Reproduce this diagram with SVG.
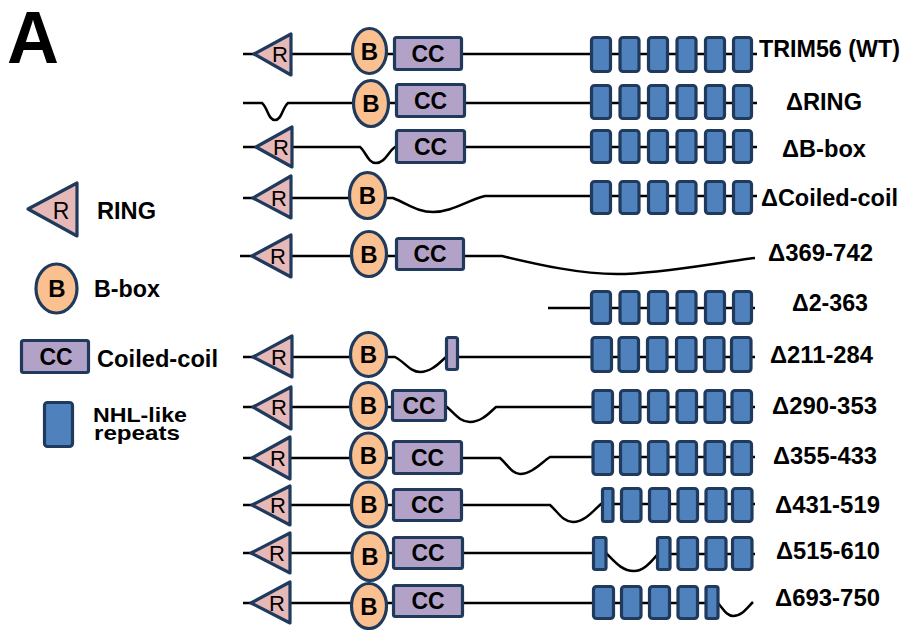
<svg xmlns="http://www.w3.org/2000/svg" width="907" height="630" viewBox="0 0 907 630">
<style>
.ring{fill:#e6b9b8;stroke:#1f3a5c;stroke-width:3.2;stroke-linejoin:round}
.bb{fill:#fac090;stroke:#1f3a5c;stroke-width:3.2}
.cc{fill:#b3a2c7;stroke:#1f3a5c;stroke-width:3.2}
.nhl{fill:#4f81bd;stroke:#1f3a5c;stroke-width:3.2}
.ln{fill:none;stroke:#000;stroke-width:2.5}
.r{font-family:"Liberation Sans",Arial,sans-serif;font-size:22px;text-anchor:middle;fill:#000}
.b{font-family:"Liberation Sans",Arial,sans-serif;font-size:24px;font-weight:bold;text-anchor:middle;fill:#000}
.c{font-family:"Liberation Sans",Arial,sans-serif;font-size:23px;font-weight:bold;text-anchor:middle;fill:#000}
.lbl{font-family:"Liberation Sans",Arial,sans-serif;font-size:23px;font-weight:bold;fill:#000}
</style>
<rect width="907" height="630" fill="#fff"/>
<text x="7" y="63" class="lbl" style="font-size:74px" textLength="52" lengthAdjust="spacingAndGlyphs">A</text>

<g id="legend">
<g id="legend-ring"><polygon class="ring" points="28,209 77,183 77,236"/><text x="61" y="219" class="r" style="font-size:23px">R</text>
<text x="97" y="219" class="lbl" textLength="59" lengthAdjust="spacingAndGlyphs">RING</text></g>
<g id="legend-bbox"><ellipse class="bb" cx="56.5" cy="288.5" rx="20.5" ry="24.5"/><text x="57" y="297" class="b">B</text>
<text x="94" y="297" class="lbl" textLength="66" lengthAdjust="spacingAndGlyphs">B-box</text></g>
<g id="legend-cc"><rect class="cc" x="21.5" y="340.5" width="67" height="32" rx="2"/><text x="56" y="365" class="c">CC</text>
<text x="97" y="367" class="lbl" textLength="121" lengthAdjust="spacingAndGlyphs">Coiled-coil</text></g>
<g id="legend-nhl"><rect class="nhl" x="44.5" y="402.5" width="28" height="44" rx="3"/>
<text x="93" y="422" class="lbl" style="font-size:21px" textLength="94" lengthAdjust="spacingAndGlyphs">NHL-like</text>
<text x="94" y="440" class="lbl" style="font-size:21px" textLength="86" lengthAdjust="spacingAndGlyphs">repeats</text></g>
</g>

<g id="connectors">
<path class="ln" d="M243,54 H757"/>
<path class="ln" d="M243,103 H262 C268,108 268,120 275,120 C282,120 282,108 288,103 H757"/>
<path class="ln" d="M243,147 H360 C366,152 368,163 376,163 C385,163 388,152 395,147 H757"/>
<path class="ln" d="M243,198 H393 C410,205 418,212 433,212 C452,212 468,200 485,196 H757"/>
<path class="ln" d="M240,256 H502 C540,265 580,274 617,274 C660,274 720,262 755,258"/>
<path class="ln" d="M548,308 H755"/>
<path class="ln" d="M243,357 H395 C405,362 410,372 420,372 C432,372 440,362 446,357 H755"/>
<path class="ln" d="M243,407 H447 C455,414 460,422 470,422 C482,422 490,412 496,407 H755"/>
<path class="ln" d="M243,458 H500 C508,465 512,474 520,474 C532,474 542,462 550,457 H755"/>
<path class="ln" d="M243,505 H550 C558,512 563,522 573,522 C585,522 594,510 601,504 H755"/>
<path class="ln" d="M243,553 H606 C615,562 622,571 634,571 C645,571 652,560 658,554 H755"/>
<path class="ln" d="M243,603 H718 C724,610 727,616 733,616 C742,616 748,607 753,602"/>
</g>

<g id="row-wt">
<polygon class="ring" points="254,54 291,34 291,75"/><text x="280" y="62" class="r">R</text>
<ellipse class="bb" cx="369.5" cy="51" rx="17" ry="22.5"/><text x="369.5" y="59.5" class="b">B</text>
<rect class="cc" x="394.5" y="37.5" width="67" height="32" rx="2"/><text x="428" y="61.5" class="c">CC</text>
<rect class="nhl" x="591.5" y="37.5" width="19" height="34" rx="3"/><rect class="nhl" x="620" y="37.5" width="19" height="34" rx="3"/><rect class="nhl" x="648.5" y="37.5" width="19" height="34" rx="3"/><rect class="nhl" x="677" y="37.5" width="19" height="34" rx="3"/><rect class="nhl" x="705.5" y="37.5" width="19" height="34" rx="3"/><rect class="nhl" x="733.5" y="37.5" width="18" height="34" rx="3"/>
<text x="759" y="57" class="lbl" textLength="141" lengthAdjust="spacingAndGlyphs">TRIM56 (WT)</text>
</g>

<g id="row-dring">
<ellipse class="bb" cx="371" cy="103.5" rx="17.5" ry="23"/><text x="371" y="112" class="b">B</text>
<rect class="cc" x="396.5" y="84.5" width="68" height="32" rx="2"/><text x="430.5" y="108.5" class="c">CC</text>
<rect class="nhl" x="591.5" y="85.5" width="19" height="33" rx="3"/><rect class="nhl" x="620" y="85.5" width="19" height="33" rx="3"/><rect class="nhl" x="648.5" y="85.5" width="19" height="33" rx="3"/><rect class="nhl" x="677" y="85.5" width="19" height="33" rx="3"/><rect class="nhl" x="705.5" y="85.5" width="19" height="33" rx="3"/><rect class="nhl" x="733.5" y="85.5" width="18" height="33" rx="3"/>
<text x="786" y="110" class="lbl" textLength="76" lengthAdjust="spacingAndGlyphs">ΔRING</text>
</g>

<g id="row-dbbox">
<polygon class="ring" points="256,147 292,127 292,167"/><text x="281" y="155" class="r">R</text>
<rect class="cc" x="396.5" y="130.5" width="68" height="32" rx="2"/><text x="430.5" y="154.5" class="c">CC</text>
<rect class="nhl" x="591.5" y="130.5" width="19" height="32" rx="3"/><rect class="nhl" x="620" y="130.5" width="19" height="32" rx="3"/><rect class="nhl" x="648.5" y="130.5" width="19" height="32" rx="3"/><rect class="nhl" x="677" y="130.5" width="19" height="32" rx="3"/><rect class="nhl" x="705.5" y="130.5" width="19" height="32" rx="3"/><rect class="nhl" x="733.5" y="130.5" width="18" height="32" rx="3"/>
<text x="782" y="157" class="lbl" textLength="84" lengthAdjust="spacingAndGlyphs">ΔB-box</text>
</g>

<g id="row-dcc">
<polygon class="ring" points="253,198 291,176 291,218"/><text x="279" y="206" class="r">R</text>
<ellipse class="bb" cx="367.5" cy="195.5" rx="18" ry="23"/><text x="367.5" y="204" class="b">B</text>
<rect class="nhl" x="591.5" y="181.5" width="19" height="32" rx="3"/><rect class="nhl" x="620" y="181.5" width="19" height="32" rx="3"/><rect class="nhl" x="648.5" y="181.5" width="19" height="32" rx="3"/><rect class="nhl" x="677" y="181.5" width="19" height="32" rx="3"/><rect class="nhl" x="705.5" y="181.5" width="19" height="32" rx="3"/><rect class="nhl" x="733.5" y="181.5" width="18" height="32" rx="3"/>
<text x="761" y="206" class="lbl" textLength="137" lengthAdjust="spacingAndGlyphs">ΔCoiled-coil</text>
</g>

<g id="row-d369">
<polygon class="ring" points="252,256 291,235 291,277"/><text x="278" y="264" class="r">R</text>
<ellipse class="bb" cx="369" cy="254" rx="17.5" ry="22.5"/><text x="369" y="262.5" class="b">B</text>
<rect class="cc" x="396.5" y="238.5" width="67" height="31" rx="2"/><text x="430" y="262" class="c">CC</text>
<text x="768" y="261" class="lbl" textLength="105" lengthAdjust="spacingAndGlyphs">Δ369-742</text>
</g>

<g id="row-d2">
<rect class="nhl" x="591.5" y="291.5" width="19" height="32" rx="3"/><rect class="nhl" x="620" y="291.5" width="19" height="32" rx="3"/><rect class="nhl" x="648.5" y="291.5" width="19" height="32" rx="3"/><rect class="nhl" x="677" y="291.5" width="19" height="32" rx="3"/><rect class="nhl" x="705.5" y="291.5" width="19" height="32" rx="3"/><rect class="nhl" x="733.5" y="291.5" width="18" height="32" rx="3"/>
<text x="792" y="311" class="lbl" textLength="76" lengthAdjust="spacingAndGlyphs">Δ2-363</text>
</g>

<g id="row-d211">
<polygon class="ring" points="253,357 292,336 292,377"/><text x="279" y="365" class="r">R</text>
<ellipse class="bb" cx="368.5" cy="354.5" rx="18" ry="22"/><text x="368.5" y="363" class="b">B</text>
<rect class="cc" x="446.5" y="337.5" width="11" height="32" rx="2"/>
<rect class="nhl" x="592" y="337.5" width="19.5" height="34" rx="3"/><rect class="nhl" x="619" y="337.5" width="19.5" height="34" rx="3"/><rect class="nhl" x="647.5" y="337.5" width="19.5" height="34" rx="3"/><rect class="nhl" x="676.5" y="337.5" width="19.5" height="34" rx="3"/><rect class="nhl" x="704.5" y="337.5" width="19.5" height="34" rx="3"/><rect class="nhl" x="731.5" y="337.5" width="19.5" height="34" rx="3"/>
<text x="770" y="363" class="lbl" textLength="103" lengthAdjust="spacingAndGlyphs">Δ211-284</text>
</g>

<g id="row-d290">
<polygon class="ring" points="253,407 291,387 291,429"/><text x="279" y="415" class="r">R</text>
<ellipse class="bb" cx="368.5" cy="405.5" rx="18" ry="23"/><text x="368.5" y="414" class="b">B</text>
<rect class="cc" x="392.5" y="390.5" width="53" height="30" rx="2"/><text x="419" y="413.5" class="c">CC</text>
<rect class="nhl" x="593" y="390.5" width="19.5" height="32" rx="3"/><rect class="nhl" x="620.5" y="390.5" width="19.5" height="32" rx="3"/><rect class="nhl" x="648.5" y="390.5" width="19.5" height="32" rx="3"/><rect class="nhl" x="677" y="390.5" width="19.5" height="32" rx="3"/><rect class="nhl" x="705" y="390.5" width="19.5" height="32" rx="3"/><rect class="nhl" x="732" y="390.5" width="19.5" height="32" rx="3"/>
<text x="772" y="414" class="lbl" textLength="105" lengthAdjust="spacingAndGlyphs">Δ290-353</text>
</g>

<g id="row-d355">
<polygon class="ring" points="252,458 290,437 290,479"/><text x="278" y="466" class="r">R</text>
<ellipse class="bb" cx="368.5" cy="455.5" rx="18" ry="22.5"/><text x="368.5" y="464" class="b">B</text>
<rect class="cc" x="393.5" y="441.5" width="68" height="32" rx="2"/><text x="427.5" y="465.5" class="c">CC</text>
<rect class="nhl" x="593" y="441.5" width="19.5" height="33" rx="3"/><rect class="nhl" x="620.5" y="441.5" width="19.5" height="33" rx="3"/><rect class="nhl" x="648.5" y="441.5" width="19.5" height="33" rx="3"/><rect class="nhl" x="677" y="441.5" width="19.5" height="33" rx="3"/><rect class="nhl" x="705" y="441.5" width="19.5" height="33" rx="3"/><rect class="nhl" x="732" y="441.5" width="19.5" height="33" rx="3"/>
<text x="773" y="464" class="lbl" textLength="104" lengthAdjust="spacingAndGlyphs">Δ355-433</text>
</g>

<g id="row-d431">
<polygon class="ring" points="252,505 290,486 290,525"/><text x="278" y="513" class="r">R</text>
<ellipse class="bb" cx="369" cy="504.5" rx="17.5" ry="22.5"/><text x="369" y="513" class="b">B</text>
<rect class="cc" x="393.5" y="489.5" width="68" height="31" rx="2"/><text x="427.5" y="513" class="c">CC</text>
<rect class="nhl" x="602.5" y="488.5" width="10.5" height="33" rx="2"/><rect class="nhl" x="621.5" y="488.5" width="19.5" height="33" rx="3"/><rect class="nhl" x="649.5" y="488.5" width="20" height="33" rx="3"/><rect class="nhl" x="678" y="488.5" width="19.5" height="33" rx="3"/><rect class="nhl" x="706" y="488.5" width="20" height="33" rx="3"/><rect class="nhl" x="732.5" y="488.5" width="19.5" height="33" rx="3"/>
<text x="775" y="513" class="lbl" textLength="105" lengthAdjust="spacingAndGlyphs">Δ431-519</text>
</g>

<g id="row-d515">
<polygon class="ring" points="251,553 290,533 290,573"/><text x="277" y="561" class="r">R</text>
<ellipse class="bb" cx="370" cy="556.5" rx="18" ry="24"/><text x="370" y="565" class="b">B</text>
<rect class="cc" x="393.5" y="537.5" width="69" height="31" rx="2"/><text x="428" y="561" class="c">CC</text>
<rect class="nhl" x="593.5" y="537.5" width="12.5" height="32" rx="2"/><rect class="nhl" x="657.5" y="537.5" width="12.5" height="32" rx="2"/><rect class="nhl" x="678" y="537.5" width="19.5" height="32" rx="3"/><rect class="nhl" x="706" y="537.5" width="20" height="32" rx="3"/><rect class="nhl" x="732.5" y="537.5" width="19.5" height="32" rx="3"/>
<text x="776" y="559" class="lbl" textLength="104" lengthAdjust="spacingAndGlyphs">Δ515-610</text>
</g>

<g id="row-d693">
<polygon class="ring" points="251,603 290,582 290,623"/><text x="277" y="611" class="r">R</text>
<ellipse class="bb" cx="369" cy="606" rx="17.5" ry="22.5"/><text x="369" y="614.5" class="b">B</text>
<rect class="cc" x="393.5" y="585.5" width="69" height="31" rx="2"/><text x="428" y="609" class="c">CC</text>
<rect class="nhl" x="593.5" y="586.5" width="20" height="32" rx="3"/><rect class="nhl" x="621.5" y="586.5" width="19.5" height="32" rx="3"/><rect class="nhl" x="649.5" y="586.5" width="20" height="32" rx="3"/><rect class="nhl" x="678" y="586.5" width="19.5" height="32" rx="3"/><rect class="nhl" x="706" y="586.5" width="12" height="32" rx="2"/>
<text x="775" y="606" class="lbl" textLength="105" lengthAdjust="spacingAndGlyphs">Δ693-750</text>
</g>
</svg>
